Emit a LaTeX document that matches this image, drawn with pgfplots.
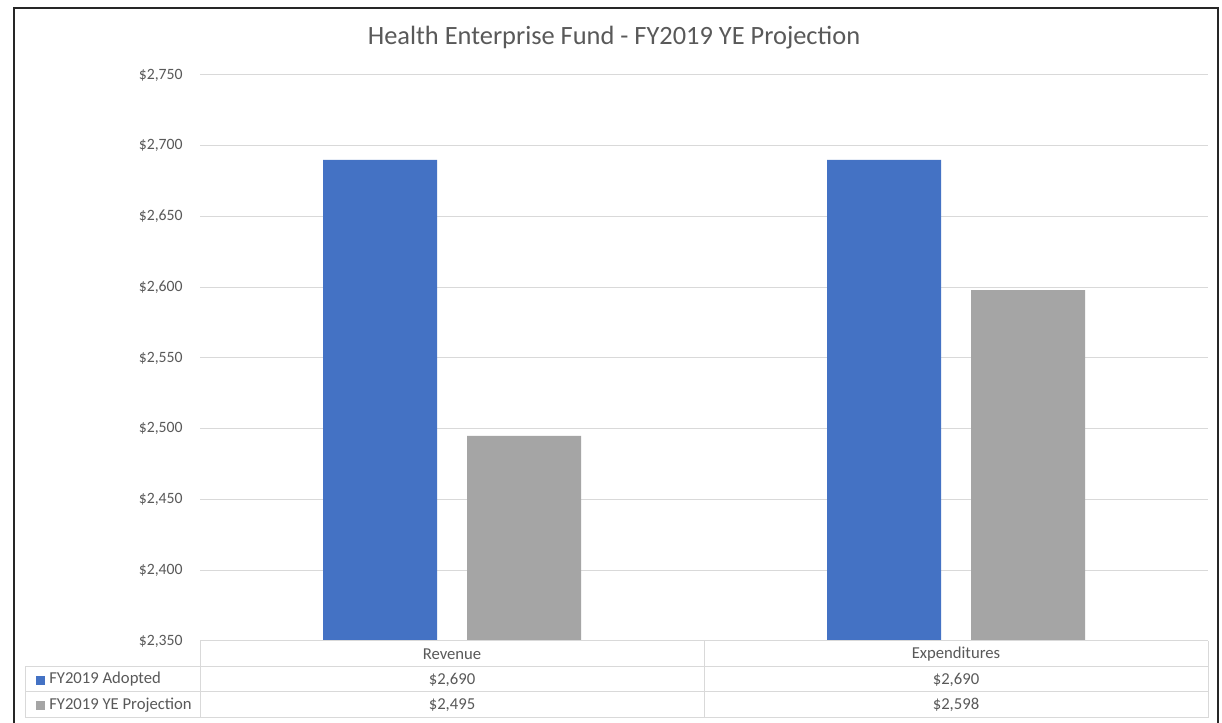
\documentclass[border=0pt]{standalone}
\usepackage{pgfplots}
\pgfplotsset{compat=1.18}
\usepackage{fontspec}
\setmainfont{Carlito}
\definecolor{cblue}{HTML}{4472C4}
\definecolor{cgray}{HTML}{A5A5A5}
\definecolor{ctext}{HTML}{595959}
\definecolor{cgrid}{HTML}{D9D9D9}
\begin{document}
\begin{tikzpicture}[x=0.75pt,y=0.75pt]
\useasboundingbox (0,0) rectangle (1222,723);
% canvas
\fill[white] (0,0) rectangle (1222,723);
\begin{scope}
\clip (0,0) rectangle (1222,723);
\draw[black!85,line width=1.5pt] (14,-5) -- (14,715) -- (1218,715) -- (1218,-5);
\end{scope}
\begin{axis}[
  at={(150pt,61.5pt)}, anchor=south west,
  scale only axis, width=756pt, height=424.5pt,
  xmin=0, xmax=2, ymin=2350, ymax=2750,
  ytick={2350,2400,...,2750},
  xtick=\empty,
  ybar, bar width=85.5pt,
  axis line style={draw=none},
  ymajorgrids, grid style={cgrid, line width=0.75pt},
  major tick length=0pt,
  /pgf/number format/assume math mode=true,
  /pgf/number format/1000 sep={,},
  yticklabel={\$\pgfmathprintnumber{\tick}},
  yticklabel style={font=\fontsize{11.8}{14}\selectfont, color=ctext, xshift=-9.5pt},
  clip=false,
]
\addplot[fill=cblue, draw=none, bar shift=-54pt] coordinates {(0.5,2690) (1.5,2690)};
\addplot[fill=cgray, draw=none, bar shift=54pt] coordinates {(0.5,2495) (1.5,2598)};
\end{axis}
% title
\node[color=ctext, font=\fontsize{19.8}{23}\selectfont] at (614,685) {Health Enterprise Fund - FY2019 YE Projection};
% data table
\begin{scope}[cgrid, line width=0.75pt]
\draw (200,82) -- (1208,82);
\draw (25,56) -- (1208,56);
\draw (25,31) -- (1208,31);
\draw (25,5) -- (1208,5);
\draw (200,82) -- (200,5);
\draw (704,82) -- (704,5);
\draw (1208,82) -- (1208,5);
\draw (25,56) -- (25,5);
\end{scope}
\begin{scope}[color=ctext, font=\fontsize{12.5}{15}\selectfont]
\node at (452,69) {Revenue};
\node at (956,69) {Expenditures};
\node at (452,43.5) {\$2,690};
\node at (956,43.5) {\$2,690};
\node at (452,18) {\$2,495};
\node at (956,18) {\$2,598};
\fill[cblue] (36,38) rectangle (45,47);
\fill[cgray] (36,12.5) rectangle (45,21.5);
\node[anchor=west, inner sep=0pt] at (49,43.5) {FY2019 Adopted};
\node[anchor=west, inner sep=0pt] at (49,18) {FY2019 YE Projection};
\end{scope}
\end{tikzpicture}
\end{document}
